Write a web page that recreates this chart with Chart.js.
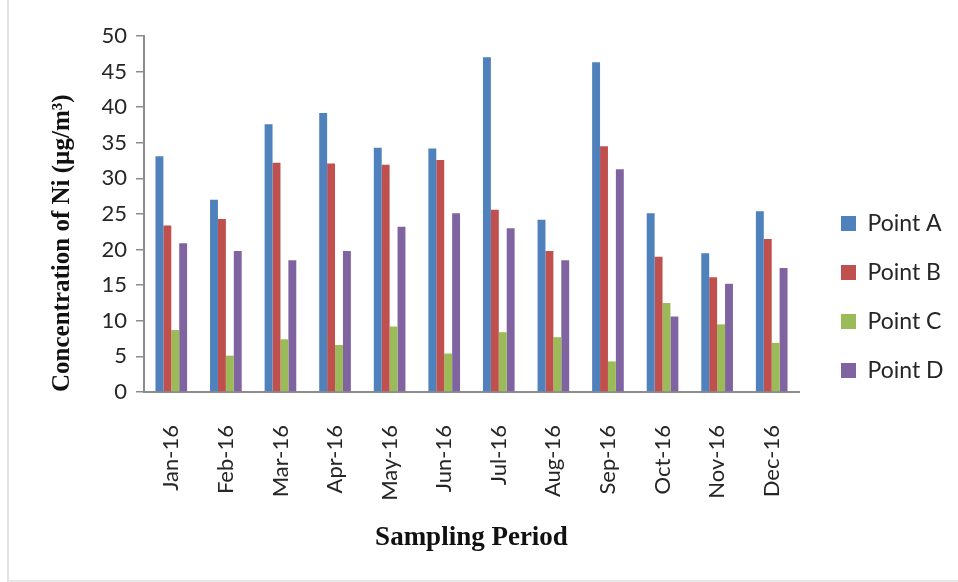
<!DOCTYPE html>
<html>
<head>
<meta charset="utf-8">
<script src="https://cdn.jsdelivr.net/npm/chart.js"></script>
<style>
  html, body { margin: 0; padding: 0; background: #fff; }
  #wrap { position: relative; width: 958px; height: 582px; }
  #frame {
    position: absolute; left: 7px; top: 0; width: 949px; height: 580px;
    border-left: 2px solid #e2e2e2; border-bottom: 2px solid #e8e8e8;
    pointer-events: none;
  }
</style>
</head>
<body>
<div id="wrap">
  <canvas id="niChart" width="958" height="582"></canvas>
  <div id="frame"></div>
</div>
<script>
// values
const months = ['Jan-16', 'Feb-16', 'Mar-16', 'Apr-16', 'May-16', 'Jun-16',
                'Jul-16', 'Aug-16', 'Sep-16', 'Oct-16', 'Nov-16', 'Dec-16'];
const pointA = [33.1, 27.0, 37.6, 39.2, 34.3, 34.2, 47.0, 24.2, 46.3, 25.1, 19.5, 25.4];
const pointB = [23.4, 24.3, 32.2, 32.1, 31.9, 32.6, 25.6, 19.8, 34.5, 19.0, 16.1, 21.5];
const pointC = [8.7, 5.1, 7.4, 6.6, 9.2, 5.4, 8.4, 7.7, 4.3, 12.5, 9.5, 6.9];
const pointD = [20.9, 19.8, 18.5, 19.8, 23.2, 25.1, 23.0, 18.5, 31.3, 10.6, 15.2, 17.4];
const yTicks = [0, 5, 10, 15, 20, 25, 30, 35, 40, 45, 50];

const tickFont = { family: 'Lato', size: 22 };
const axisGrey = '#8c8c8c';

function series(label, values, color) {
    return {
        label: label,
        data: values,
        backgroundColor: color,
        borderWidth: 0,
        barPercentage: 1.0,
        categoryPercentage: 0.58
    };
}

// legend sits a bit right of / above where chart.js puts it
const legendNudge = {
    id: 'legendNudge',
    beforeInit(chart) {
        const fit = chart.legend.fit;
        chart.legend.fit = function() {
            fit.bind(chart.legend)();
            this.width = 159;
        };
    },
    afterLayout(chart) {
        const lg = chart.legend;
        lg.left += 16;
        lg.right += 16;
        lg.top -= 12;
        lg.bottom -= 12;
    }
};

new Chart(document.getElementById('niChart'), {
    type: 'bar',
    data: {
        labels: months,
        datasets: [
            series('Point A', pointA, '#4f81bd'),
            series('Point B', pointB, '#c0504d'),
            series('Point C', pointC, '#9bbb59'),
            series('Point D', pointD, '#8064a2')
        ]
    },
    plugins: [legendNudge],
    options: {
        responsive: false,
        animation: false,
        layout: { padding: { top: 36, left: 0, right: 0, bottom: 0 } },
        scales: {
            x: {
                grid: { display: true, drawOnChartArea: false, drawTicks: false },
                border: { display: true, color: axisGrey, width: 2 },
                ticks: {
                    font: tickFont,
                    color: '#262626',
                    minRotation: 90,
                    maxRotation: 90,
                    padding: 33
                },
                title: {
                    display: true,
                    text: 'Sampling Period',
                    color: '#111',
                    font: { family: 'Liberation Serif', size: 27, weight: 'bold' },
                    padding: { top: 0, bottom: 28 }
                },
                afterFit(scale) { scale.height = 190; }
            },
            y: {
                min: yTicks[0],
                max: yTicks[yTicks.length - 1],
                afterBuildTicks(scale) {
                    scale.ticks = yTicks.map(v => ({ value: v }));
                },
                grid: {
                    display: true,
                    drawOnChartArea: false,
                    drawTicks: true,
                    tickLength: 8,
                    color: axisGrey,
                    lineWidth: 1.5
                },
                border: { display: true, color: axisGrey, width: 2 },
                ticks: { font: tickFont, color: '#262626', padding: 9 },
                title: {
                    display: true,
                    text: 'Concentration of Ni (µg/m³)',
                    align: 'start',
                    color: '#111',
                    font: { family: 'Liberation Serif', size: 25, weight: 'bold' },
                    padding: { top: 48, bottom: 0 }
                },
                afterFit(scale) { scale.width = 144; }
            }
        },
        plugins: {
            legend: {
                position: 'right',
                align: 'center',
                labels: {
                    font: { family: 'Lato', size: 23 },
                    color: '#262626',
                    boxWidth: 15,
                    boxHeight: 15,
                    padding: 26
                }
            },
            tooltip: { enabled: false }
        }
    }
});
</script>
</body>
</html>
